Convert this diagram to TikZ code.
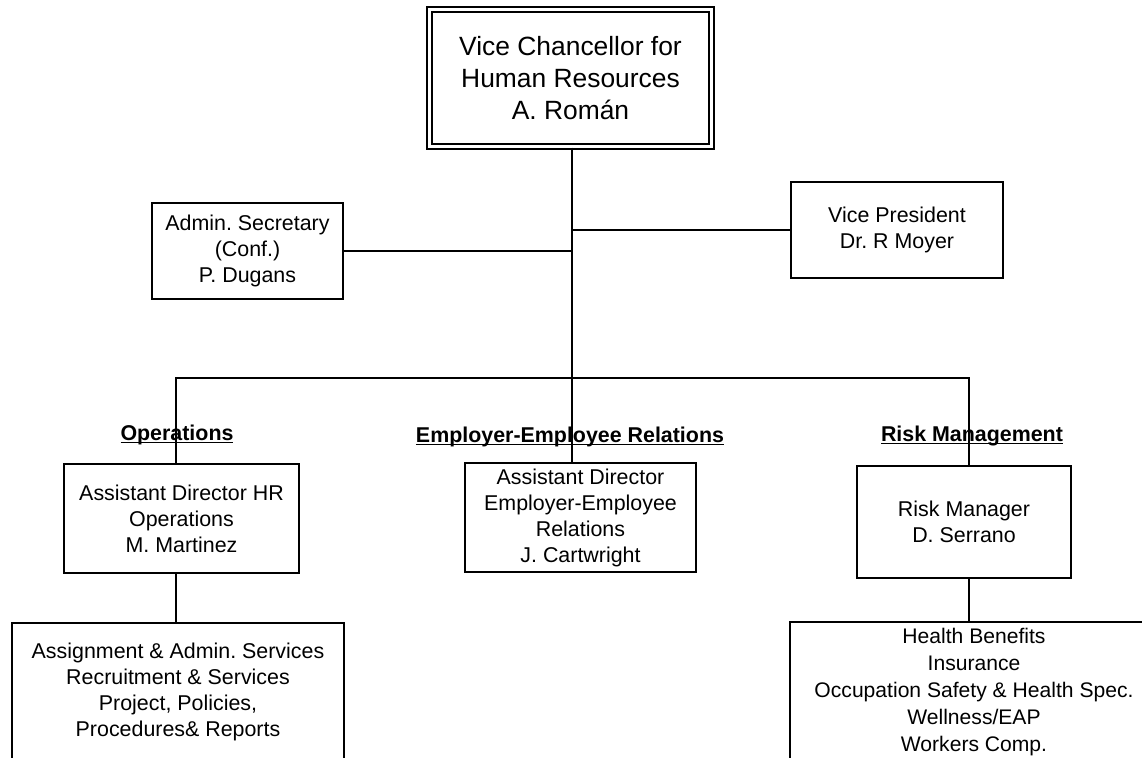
\documentclass[tikz,border=0pt]{standalone}
\usepackage{fontspec}
\setmainfont{Liberation Sans}
\frenchspacing
\newcommand\myul[1]{\setbox0\hbox{#1}\rlap{\rule[-1.3pt]{\wd0}{0.65pt}}\box0}
\begin{document}
\begin{tikzpicture}[x=0.5pt,y=-0.5pt,
  box/.style 2 args={draw=black, line width=1pt, inner sep=0pt, align=center,
    minimum width=#1*0.5pt, minimum height=#2*0.5pt,
    font=\fontsize{10.7}{13}\selectfont},
  topbox/.style={draw=black, double, line width=0.9pt, double distance=1.5pt,
    inner sep=0pt, align=center, minimum width=141.2pt, minimum height=68.7pt,
    font=\fontsize{13.2}{16}\selectfont},
  conn/.style={line width=0.65pt},
  trunkline/.style={line width=1.4pt},
  head/.style={inner sep=0pt, font=\fontsize{10.7}{13}\selectfont\bfseries}
]
\useasboundingbox (0,0) rectangle (1142,757);
\clip (0,0) rectangle (1142,757);

% nodes
\node[topbox] (vc) at (570.5,78) {Vice Chancellor for\\Human Resources\\A. Rom\'an};
\node[box={191}{96}] (admin) at (247.5,251) {Admin. Secretary\\(Conf.)\\P. Dugans};
\node[box={212}{96}] (vp) at (897,230) {Vice President\\Dr. R Moyer};
\node[box={235}{109}] (ops) at (181.5,518.5) {Assistant Director HR\\Operations\\M. Martinez};
\node[box={231}{109}] (eer) at (580.5,517.5) {Assistant Director\\Employer-Employee\\Relations\\J. Cartwright};
\node[box={214}{112}] (risk) at (964,522) {Risk Manager\\D. Serrano};
\node[box={332}{138}] (opsub) at (178,692) {Assignment \& Admin. Services\\Recruitment \& Services\\Project, Policies,\\Procedures\& Reports};
\node[box={368}{140}, font=\fontsize{10.55}{13.4}\selectfont] (risksub) at (974,692) {Health Benefits\\Insurance\\Occupation Safety \& Health Spec.\\Wellness/EAP\\Workers Comp.};

% section headings
\node[head] (hops) at (177,435) {\myul{Operations}};
\node[head] (heer) at (570,437) {\myul{Employer-Employee Relations}};
\node[head] (hrisk) at (972,436) {\myul{Risk Management}};

% junction coordinates
\coordinate (xt) at (572,0);
\coordinate (xo) at (176,0);
\coordinate (xr) at (969,0);
\coordinate (j) at (572,378);

% connectors
\draw[trunkline] (vc.south -| xt) -- (j);
\draw[conn] (admin.east) -- (admin.east -| xt);
\draw[conn] (vp.west) -- (vp.west -| xt);
\draw[conn] (j) -| (ops.north -| xo);
\draw[conn] (j) -| (risk.north -| xr);
\draw[conn] (j) -- (eer.north -| j);
\draw[conn] (ops.south -| xo) -- (opsub.north -| xo);
\draw[conn] (risk.south -| xr) -- (risksub.north -| xr);
\end{tikzpicture}
\end{document}
